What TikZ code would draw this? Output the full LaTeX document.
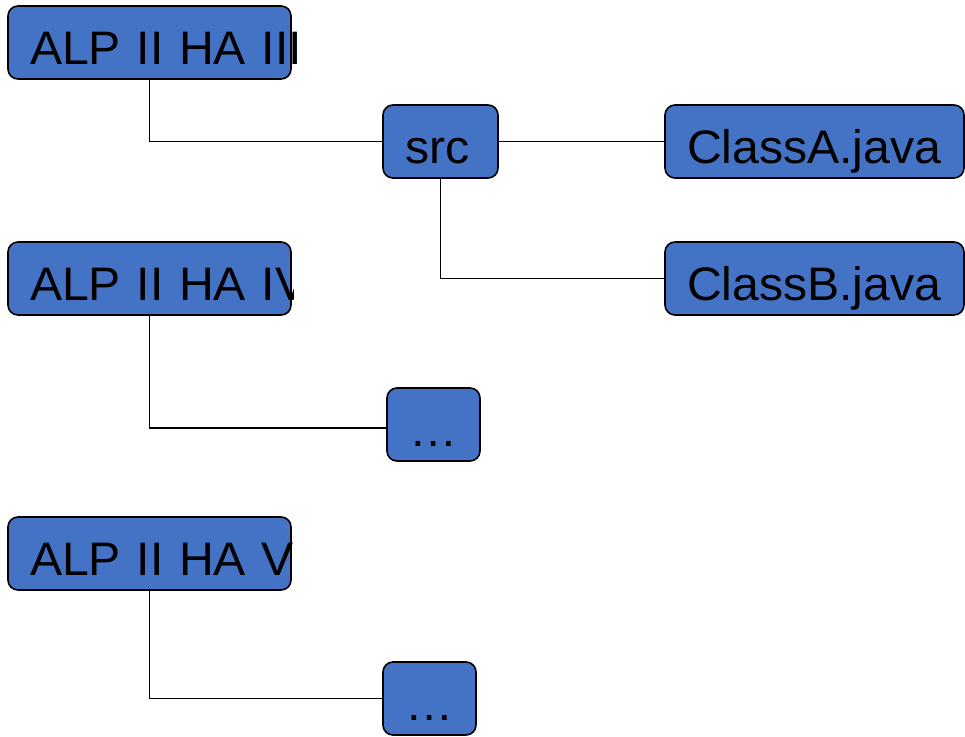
\documentclass[tikz,border=0pt]{standalone}
\usepackage{fontspec}
\setmainfont{Liberation Sans}[FakeStretch=1.025]
\usepackage{tikz}
\usetikzlibrary{positioning}
\definecolor{officeblue}{RGB}{68, 114, 196}
\newcommand{\boxfont}{\fontsize{47}{56}\selectfont\spaceskip=9.5pt\relax}
\tikzstyle{folder} = [rectangle, rounded corners=10pt, draw=black, line width=1.6pt, fill=officeblue, text=black, align=left, inner xsep=22pt, inner ysep=0pt, outer sep=0pt, text height=44pt, text depth=0pt, minimum height=73pt, font=\boxfont]
\tikzstyle{widebox} = [folder, text width=239pt]
\tikzstyle{filebox} = [folder, text width=255pt]
\tikzstyle{smallbox} = [folder, text width=49pt]
\tikzstyle{link} = [draw, line width=1.4pt]

\begin{document}
\begin{tikzpicture}[x=1pt, y=1pt]
\useasboundingbox (0,0) rectangle (965,-736);

% folders =============================
\node[widebox] (hathree) at (149.5,-42.5) {\mbox{ALP II HA III}};
\begin{scope}
\clip (0,-230) rectangle (293,-330);
\node[widebox, below=163pt of hathree] (hafour) {\mbox{ALP II HA IV}};
\end{scope}
\node[widebox, below=202pt of hafour] (hafive) {\mbox{ALP II HA V}};

\node[folder, text width=71pt, below right=26pt and 92pt of hathree] (src) {src};
\node[filebox, right=167pt of src] (classa) {ClassA.java};
\node[filebox, below=64pt of classa] (classb) {ClassB.java};

\node[smallbox, below right=73pt and 96pt of hafour] (dotsone) {…};
\node[smallbox, below right=72pt and 92pt of hafive] (dotstwo) {…};

% edges
\path[link] (hathree.south) |- (src.west);
\path[link] (src.east) -- (classa.west);
\path[link] (src.south) |- (classb.west);
\path[link] (hafour.south) |- ([yshift=-3.5pt]dotsone.west);
\path[link] (hafive.south) |- (dotstwo.west);

\end{tikzpicture}
\end{document}
